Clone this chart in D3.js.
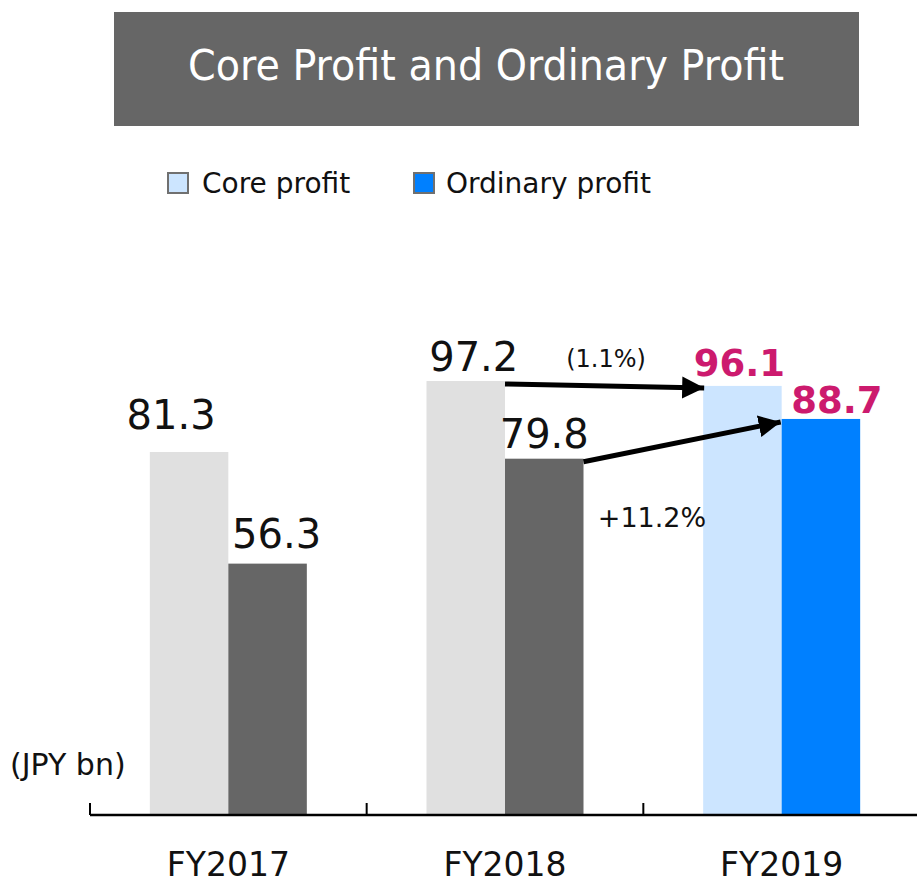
<!DOCTYPE html>
<html>
<head>
<meta charset="utf-8">
<script src="https://cdn.jsdelivr.net/npm/d3@7"></script>
<style>
  html, body { margin: 0; padding: 0; background: #fff; }
  svg { display: block; font-family: "DejaVu Sans", Verdana, sans-serif; }
</style>
</head>
<body>
<div id="chart"></div>
<script>
// dados do gráfico
const years = ["FY2017", "FY2018", "FY2019"];
const series = ["Core profit", "Ordinary profit"];
const coreProfit = [81.3, 97.2, 96.1];
const ordinaryProfit = [56.3, 79.8, 88.7];
const changes = ["(1.1%)", "+11.2%"];
const titleText = "Core Profit and Ordinary Profit";
const unitText = "(JPY bn)";

const width = 917, height = 885;
const baseY = 815;

// deslocamento dos rótulos em relação ao centro/topo da barra [dx, dy]
const coreLabelShift = [[-18, -23], [8, -10], [-3, -10]];
const ordLabelShift = [[9, -16], [0, -11], [16, -6]];

const svg = d3.select("#chart").append("svg")
    .attr("width", width)
    .attr("height", height);

// titulo
svg.append("rect")
    .attr("x", 114).attr("y", 12)
    .attr("width", 745).attr("height", 114)
    .attr("fill", "#666666");
svg.append("text")
    .attr("x", 486).attr("y", 80)
    .attr("text-anchor", "middle")
    .attr("fill", "#fff")
    .style("font-size", "43px")
    .attr("textLength", 596)
    .attr("lengthAdjust", "spacingAndGlyphs")
    .text(titleText);

// legenda
const legendItems = [
    {key: series[0], color: "#cce5ff", x: 167, tx: 202},
    {key: series[1], color: "#0080ff", x: 413, tx: 446}
];
const legend = svg.selectAll(".legend").data(legendItems)
    .enter().append("g").attr("class", "legend");
legend.append("rect")
    .attr("x", d => d.x + 1).attr("y", 173)
    .attr("width", 20).attr("height", 20)
    .attr("fill", d => d.color)
    .attr("stroke", "#707070").attr("stroke-width", 2);
legend.append("text")
    .attr("x", d => d.tx).attr("y", 193)
    .style("font-size", "28px")
    .attr("fill", "#111")
    .text(d => d.key);

// escalas
const x = d3.scaleBand().domain(years).range([90, 920]);
const barW = 78.5;
const y = d3.scaleLinear().domain([0, 100]).range([baseY, baseY - 446.5]);

const data = years.map((yr, i) => ({year: yr, i: i, core: coreProfit[i], ord: ordinaryProfit[i], last: i === years.length - 1}));
const cx = d => x(d.year) + x.bandwidth() / 2;

const bars = svg.append("g");
bars.selectAll(".core").data(data).enter().append("rect")
    .attr("x", d => cx(d) - barW)
    .attr("y", d => y(d.core))
    .attr("width", barW)
    .attr("height", d => baseY - y(d.core))
    .attr("fill", d => d.last ? "#cce5ff" : "#e0e0e0");
bars.selectAll(".ord").data(data).enter().append("rect")
    .attr("x", d => cx(d))
    .attr("y", d => y(d.ord))
    .attr("width", barW)
    .attr("height", d => baseY - y(d.ord))
    .attr("fill", d => d.last ? "#0080ff" : "#666666");

// rótulos de valores
svg.selectAll(".lblCore").data(data).enter().append("text")
    .attr("x", d => cx(d) - barW / 2 + coreLabelShift[d.i][0])
    .attr("y", d => y(d.core) + coreLabelShift[d.i][1])
    .attr("text-anchor", "middle")
    .attr("fill", d => d.last ? "#cc1a6e" : "#111")
    .attr("font-weight", d => d.last ? "bold" : "normal")
    .style("font-size", d => d.last ? "37px" : "40px")
    .text(d => d.core.toFixed(1));
svg.selectAll(".lblOrd").data(data).enter().append("text")
    .attr("x", d => cx(d) + barW / 2 + ordLabelShift[d.i][0])
    .attr("y", d => y(d.ord) + ordLabelShift[d.i][1])
    .attr("text-anchor", "middle")
    .attr("fill", d => d.last ? "#cc1a6e" : "#111")
    .attr("font-weight", d => d.last ? "bold" : "normal")
    .style("font-size", d => d.last ? "37px" : "40px")
    .text(d => d.ord.toFixed(1));

// setas
svg.append("defs").append("marker")
    .attr("id", "arrow")
    .attr("viewBox", "0 0 10 10")
    .attr("refX", 10).attr("refY", 5)
    .attr("markerWidth", 4.4).attr("markerHeight", 4.8)
    .attr("markerUnits", "strokeWidth")
    .attr("orient", "auto")
    .append("path").attr("d", "M0,0L10,5L0,10Z").attr("fill", "#000");

const prev = data[1], cur = data[2];
const arrows = [
    {x1: cx(prev), y1: y(prev.core) + 3, x2: cx(cur) - barW + 1, y2: y(cur.core) + 2},
    {x1: cx(prev) + barW, y1: y(prev.ord) + 3, x2: cx(cur) - 1, y2: y(cur.ord) + 3}
];
svg.selectAll(".arrow").data(arrows).enter().append("line")
    .attr("x1", d => d.x1).attr("y1", d => d.y1)
    .attr("x2", d => d.x2).attr("y2", d => d.y2)
    .attr("stroke", "#000").attr("stroke-width", 5)
    .attr("marker-end", "url(#arrow)");

svg.append("text")
    .attr("x", 606).attr("y", 367)
    .attr("text-anchor", "middle")
    .style("font-size", "24px")
    .attr("fill", "#111")
    .text(changes[0]);
svg.append("text")
    .attr("x", 652).attr("y", 527)
    .attr("text-anchor", "middle")
    .style("font-size", "27px")
    .attr("fill", "#111")
    .text(changes[1]);

// eixo
const axis = svg.append("g");
axis.append("line")
    .attr("x1", 90).attr("x2", width)
    .attr("y1", baseY).attr("y2", baseY)
    .attr("stroke", "#000").attr("stroke-width", 2.5);
axis.selectAll(".tick").data(years).enter().append("line")
    .attr("x1", d => x(d)).attr("x2", d => x(d))
    .attr("y1", baseY - 12).attr("y2", baseY)
    .attr("stroke", "#000").attr("stroke-width", 2);
axis.selectAll(".cat").data(years).enter().append("text")
    .attr("x", d => x(d) + x.bandwidth() / 2)
    .attr("y", 876)
    .attr("text-anchor", "middle")
    .style("font-size", "33px")
    .attr("fill", "#111")
    .text(d => d);

svg.append("text")
    .attr("x", 10).attr("y", 775)
    .style("font-size", "30px")
    .attr("fill", "#111")
    .text(unitText);
</script>
</body>
</html>
